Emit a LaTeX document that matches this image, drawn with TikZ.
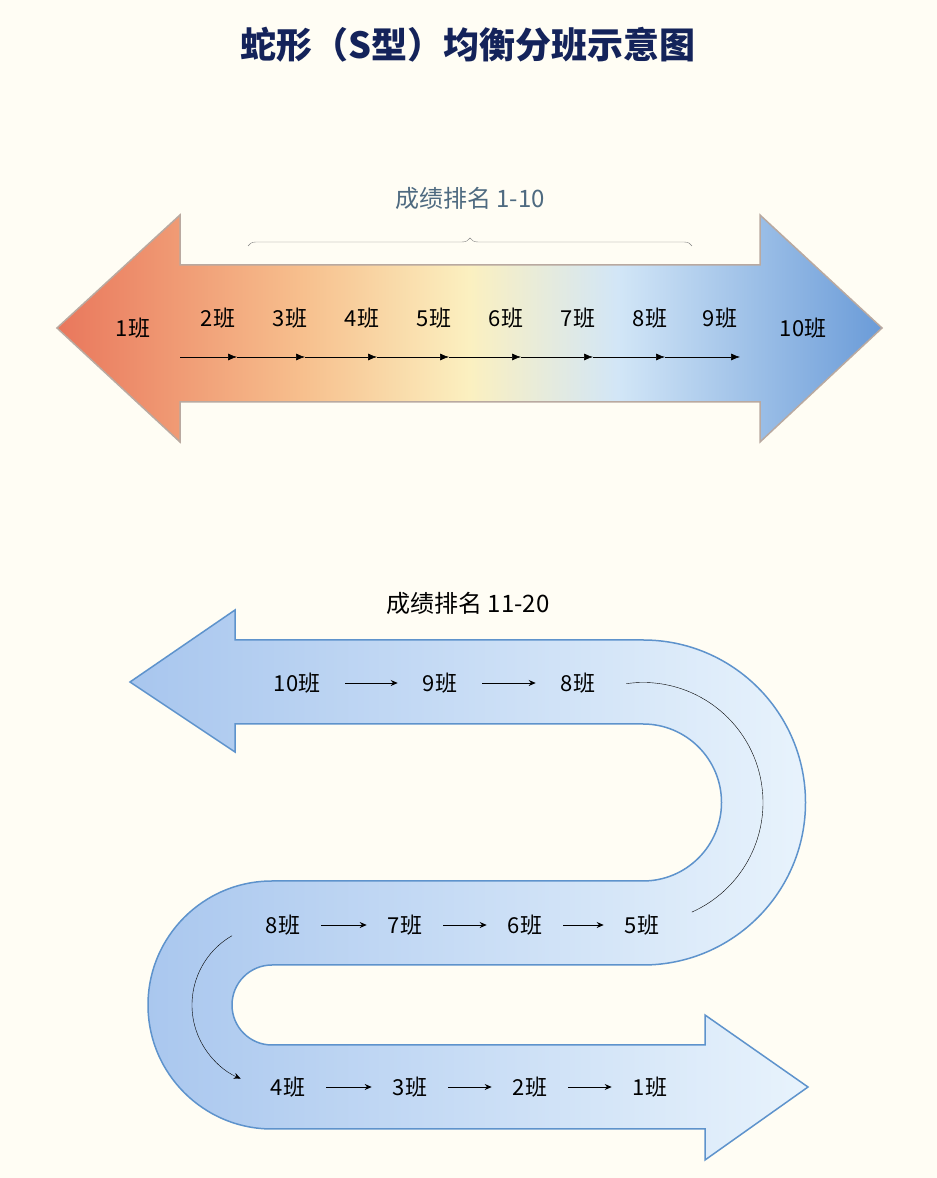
\documentclass[tikz,border=0pt]{standalone}
\usepackage{fontspec}
\setmainfont{Noto Sans CJK SC}
\usetikzlibrary{arrows.meta,decorations.pathreplacing}
\definecolor{bgcream}{HTML}{FFFDF4}
\definecolor{titlenavy}{HTML}{14235A}
\definecolor{rankgray}{HTML}{4E6A80}
\definecolor{snakeedge}{HTML}{5E93CC}
\definecolor{snakedark}{HTML}{A8C6EE}
\definecolor{snakelight}{HTML}{E8F3FC}
\definecolor{barred}{HTML}{E9775C}
\definecolor{barpeach}{HTML}{F7C08E}
\definecolor{baryellow}{HTML}{FBF0C0}
\definecolor{barsky}{HTML}{D2E6F7}
\definecolor{barblue}{HTML}{6A9BD8}
\definecolor{baredge}{HTML}{B9A9A0}
\pgfdeclarehorizontalshading{rankbar}{100bp}{color(0bp)=(barred); color(25bp)=(barred); color(40bp)=(barpeach); color(50bp)=(baryellow); color(59bp)=(barsky); color(75bp)=(barblue); color(100bp)=(barblue)}
\begin{document}
\begin{tikzpicture}[x=1pt,y=1pt,
    lbl/.style={font=\fontsize{22}{26}\selectfont,inner sep=1pt},
    flow/.style={-{Latex[length=9pt,width=7pt]},semithick},
    sarrow/.style={-{Stealth[length=7pt,width=6pt]},thick,shorten <=20pt,shorten >=20pt}
  ]
  \fill[bgcream] (0,0) rectangle (937,1178);
  \useasboundingbox (0,0) rectangle (937,1178);

  % Title
  \node[font=\fontsize{36}{42}\selectfont\bfseries,text=titlenavy] (title) at (468,1133) {蛇形（S型）均衡分班示意图};

  % Top arrow
  \shade[shading=rankbar,draw=baredge,line width=1.5pt]
    (57,850) -- (180,963) -- (180,913) -- (760,913) -- (760,963) -- (882,850)
    -- (760,736) -- (760,776) -- (180,776) -- (180,736) -- cycle;
  \node[lbl] (c1) at (133,850) {1班};
  \node[lbl] (c2) at (218,860) {2班};
  \node[lbl] (c3) at (290,860) {3班};
  \node[lbl] (c4) at (362,860) {4班};
  \node[lbl] (c5) at (434,860) {5班};
  \node[lbl] (c6) at (506,860) {6班};
  \node[lbl] (c7) at (578,860) {7班};
  \node[lbl] (c8) at (650,860) {8班};
  \node[lbl] (c9) at (720,860) {9班};
  \node[lbl] (c10) at (803,850) {10班};
  \coordinate (s0) at (180,821);
  \foreach \i/\x in {1/237,2/305,3/377,4/449,5/521,6/593,7/665,8/740}
    \coordinate (s\i) at (\x,821);
  \foreach \a/\b in {0/1,1/2,2/3,3/4,4/5,5/6,6/7,7/8}
    \draw[flow] (s\a) -- (s\b);
  \draw[gray,decorate,decoration={brace,amplitude=8pt}] (248,932) -- (692,932);
  \node[text=rankgray,font=\fontsize{24}{28}\selectfont] (rank1) at (470,980) {成绩排名 1-10};

  % Serpentine arrow
  \node[font=\fontsize{24}{28}\selectfont] (rank2) at (468,575) {成绩排名 11-20};
  \shade[left color=snakedark,right color=snakelight,draw=snakeedge,line width=1.5pt]
    (130,496) -- (235,568) -- (235,538) -- (643,538)
    arc[start angle=90,end angle=-90,radius=162.5] -- (272,213)
    arc[start angle=90,end angle=270,radius=40] -- (705,133) -- (705,163) -- (808,91)
    -- (705,18) -- (705,49) -- (272,49)
    arc[start angle=270,end angle=90,radius=124] -- (643,297)
    arc[start angle=-90,end angle=90,radius=78.5] -- (235,454) -- (235,426) -- cycle;

  \node[lbl] (r10) at (297,495) {10班};
  \node[lbl] (r9) at (440,495) {9班};
  \node[lbl] (r8) at (578,495) {8班};
  \node[lbl] (m8) at (283,253) {8班};
  \node[lbl] (m7) at (405,253) {7班};
  \node[lbl] (m6) at (525,253) {6班};
  \node[lbl] (m5) at (642,253) {5班};
  \node[lbl] (b4) at (288,91) {4班};
  \node[lbl] (b3) at (410,91) {3班};
  \node[lbl] (b2) at (530,91) {2班};
  \node[lbl] (b1) at (650,91) {1班};
  \foreach \a/\b in {r10/r9,r9/r8}
    \draw[sarrow,shorten <=24pt,shorten >=24pt] (\a) -- (\b);
  \foreach \a/\b in {m8/m7,m7/m6,m6/m5,b4/b3,b3/b2,b2/b1}
    \draw[sarrow] (\a) -- (\b);

  % Thin turning lines
  \draw[thin] (643,375.5) ++(98:120) arc[start angle=98,end angle=-66,radius=120];
  \draw[thin,-{Stealth[length=7pt,width=6pt]}] (272,173) ++(120:80) arc[start angle=120,end angle=247,radius=80];
\end{tikzpicture}
\end{document}
